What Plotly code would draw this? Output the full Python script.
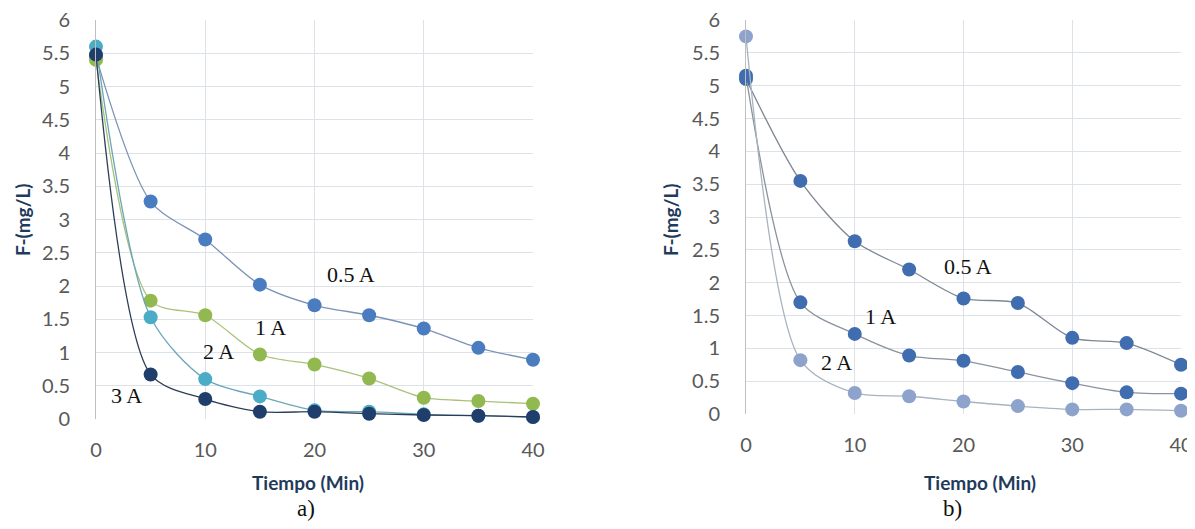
import plotly.graph_objects as go

# tiempo (min)
tiempo = [0, 5, 10, 15, 20, 25, 30, 35, 40]

# panel a)
a_05 = [5.45, 3.27, 2.70, 2.02, 1.71, 1.56, 1.36, 1.07, 0.89]
a_1 = [5.40, 1.78, 1.56, 0.97, 0.82, 0.61, 0.32, 0.27, 0.23]
a_2 = [5.60, 1.53, 0.60, 0.34, 0.13, 0.11, 0.07, 0.05, 0.03]
a_3 = [5.48, 0.67, 0.30, 0.11, 0.11, 0.08, 0.06, 0.05, 0.03]

# panel b)
b_05 = [5.10, 3.55, 2.63, 2.20, 1.76, 1.69, 1.16, 1.08, 0.75]
b_1 = [5.15, 1.70, 1.22, 0.89, 0.81, 0.64, 0.47, 0.33, 0.31]
b_2 = [5.75, 0.82, 0.32, 0.27, 0.19, 0.12, 0.07, 0.07, 0.05]

OFF = 8  # page body margin pushes the figure by 8px
W, H = 1195 - OFF, 529 - 2 * OFF  # no vertical scrollbar, reach the right edge
TICK = '#595959'
TITLE = '#1f3b5c'
GRID = '#dde2e8'


def px_x(p):
    return (p - OFF) / W


def px_y(p):
    return 1 - (p - OFF) / H


def add_series(fig, y, marker_color, line_color, xa, ya):
    fig.add_trace(go.Scatter(x=tiempo, y=y, mode='lines+markers', xaxis=xa, yaxis=ya,
                             line=dict(shape='spline', smoothing=0.8, color=line_color, width=1.3),
                             marker=dict(size=14, color=marker_color),
                             cliponaxis=False, showlegend=False))


fig = go.Figure()
add_series(fig, a_05, '#4a7cc0', '#7a93b5', 'x', 'y')
add_series(fig, a_1, '#92b950', '#a8c27a', 'x', 'y')
add_series(fig, a_2, '#4aacc6', '#6aa7b8', 'x', 'y')
add_series(fig, a_3, '#1f3e6b', '#2c3e57', 'x', 'y')

add_series(fig, b_05, '#3f6db0', '#7d8794', 'x2', 'y2')
add_series(fig, b_1, '#3f6db0', '#8a939e', 'x2', 'y2')
add_series(fig, b_2, '#8da3cc', '#a9b3c0', 'x2', 'y2')

axis_font = dict(family='Lato, Open Sans, sans-serif', size=20, color=TICK)
common_x = dict(range=[0, 40], tickvals=[0, 10, 20, 30, 40], showgrid=True, gridcolor=GRID,
                zeroline=False, showline=False, tickfont=axis_font, ticks='',
                ticklabelstandoff=17, ticklabeloverflow='allow', automargin=False,
                fixedrange=True)
common_y = dict(range=[0, 6], dtick=0.5, showgrid=True, gridcolor=GRID, zeroline=False,
                showline=True, linecolor='#bfbfbf', linewidth=1, tickfont=axis_font,
                ticks='', ticklabelstandoff=21, ticklabeloverflow='allow', automargin=False,
                fixedrange=True)

fig.update_layout(
    width=W, height=H,
    margin=dict(l=0, r=0, t=0, b=0, autoexpand=False),
    plot_bgcolor='white', paper_bgcolor='white',
    xaxis=dict(domain=[px_x(96), px_x(533)], anchor='y', **common_x),
    yaxis=dict(domain=[px_y(419), px_y(20)], anchor='x', **common_y),
    xaxis2=dict(domain=[px_x(746), px_x(1181)], anchor='y2', **common_x),
    yaxis2=dict(domain=[px_y(414), px_y(20)], anchor='x2', **common_y),
)

serif = dict(family='Liberation Serif, Times New Roman, serif', size=22, color='#111111')
labels = [
    ('x', 'y', 23.3, 2.17, '0.5 A'), ('x', 'y', 16.0, 1.37, '1 A'),
    ('x', 'y', 11.2, 1.02, '2 A'), ('x', 'y', 2.8, 0.35, '3 A'),
    ('x2', 'y2', 20.4, 2.24, '0.5 A'), ('x2', 'y2', 12.4, 1.48, '1 A'),
    ('x2', 'y2', 8.3, 0.78, '2 A'),
]
for xr, yr, xv, yv, txt in labels:
    fig.add_annotation(x=xv, y=yv, xref=xr, yref=yr, text=txt, showarrow=False, font=serif)

bold = dict(family='Lato, Open Sans, sans-serif', size=19, color=TITLE, weight='bold')
for cx, tx, cap in [(306, 308, 'a)'), (952, 980, 'b)')]:
    fig.add_annotation(x=px_x(tx), y=px_y(482), xref='paper', yref='paper',
                       xanchor='center', yanchor='middle',
                       text='Tiempo (Min)', showarrow=False, font=bold)
    fig.add_annotation(x=px_x(cx), y=px_y(508), xref='paper', yref='paper', text=cap,
                       xanchor='center', yanchor='middle', showarrow=False,
                       font=dict(family='Liberation Serif, serif', size=23, color='#111111'))
for cx in [22, 670]:
    fig.add_annotation(x=px_x(cx), y=px_y(220), xref='paper', yref='paper', text='F-(mg/L)',
                       xanchor='center', yanchor='middle',
                       textangle=-90, showarrow=False, font=bold)

fig.write_html("out.html")
